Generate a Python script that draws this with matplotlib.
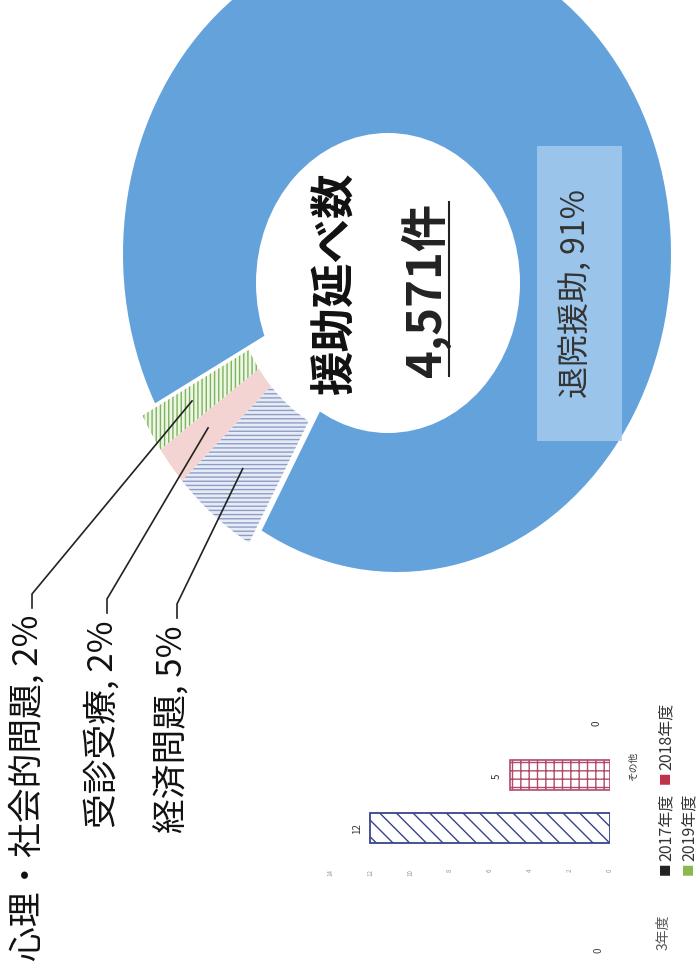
import numpy as np
import matplotlib
matplotlib.use("Agg")
import matplotlib.pyplot as plt
from matplotlib.lines import Line2D
from matplotlib.patches import Rectangle, Ellipse

plt.rcParams['font.family'] = ['Noto Sans CJK JP', 'DejaVu Sans']
plt.rcParams['hatch.linewidth'] = 1.0

# donut: share of support cases (%)
categories = ['心理・社会的問題', '受診受療', '経済問題', '退院援助']
shares = [2, 2, 5, 91]
center_title = '援助延べ数'
total_cases = '4,571件'

# bar chart fragment (その他)
bar_category = 'その他'
years = ['2017年度', '2018年度', '2019年度']
sonota_counts = [12, 5, 0]
value_ticks = [0, 2, 4, 6, 8, 10, 12, 14]

W, H = 699, 962
fig = plt.figure(figsize=(W / 100, H / 100), dpi=100)
fig.patch.set_facecolor('white')


def fx(px):
    return px / W


def fy(py):
    return 1 - py / H


# ---- donut (the scanned page is a bit stretched, so it is an ellipse) ----
cx, cy, rw, rh = 397, 255, 274, 318
ax = fig.add_axes([fx(cx - rw), fy(cy + rh), 2 * rw / W, 2 * rh / H])

colors = ['#eef6e6', '#f4d3d3', '#e6ebf5', '#64a2dc']
hatches = ['||||', None, '----', None]
hatch_cols = ['#7db35c', '#f4d3d3', '#8d9dc6', '#64a2dc']
start = 208

big, _ = ax.pie(shares, startangle=start, colors=colors,
                wedgeprops=dict(linewidth=0))
for w in big[:3]:
    w.set_visible(False)
big[3].set_zorder(1)

# white centre hole
hx, hy = (388 - cx) / rw, -(284 - cy) / rh
hole = Ellipse((hx, hy), 2 * 132 / rw, 2 * 150 / rh, facecolor='white',
               edgecolor='none', zorder=2)
ax.add_patch(hole)

shift = np.deg2rad(220)
off = (0.06 * np.cos(shift), 0.06 * np.sin(shift))
small, _ = ax.pie(shares, startangle=start, colors=colors,
                  wedgeprops=dict(width=0.44, linewidth=0), center=off)
small[3].set_visible(False)
for w, h, hc in zip(small[:3], hatches, hatch_cols):
    w.set_edgecolor(hc)
    w.set_linewidth(0)
    if h:
        w.set_hatch(h)
    w.set_zorder(3)
for w in list(big) + list(small):
    w.set_clip_on(False)

ax.set_aspect('auto')
ax.set_xlim(-1, 1)
ax.set_ylim(-1, 1)
ax.axis('off')

# center text
fig.text(fx(336), fy(283), center_title, rotation=90, ha='center', va='center',
         fontsize=32, fontweight='bold', color='#111111')
num = fig.text(fx(426), fy(290), total_cases, rotation=90, ha='center', va='center',
               fontsize=34, fontweight='bold', color='#222222')

# 91% label box
fig.patches.append(Rectangle((fx(537), fy(442)), fx(622) - fx(537), (442 - 147) / H,
                             transform=fig.transFigure, facecolor='#a6cbee',
                             edgecolor='none', alpha=0.85, zorder=2))
fig.text(fx(575), fy(293), f'{categories[3]}, {shares[3]}%', rotation=90,
         ha='center', va='center', fontsize=23, color='#333333', zorder=3)

# outside labels with leader lines
label_x = [28, 103, 173]
label_top = [615, 620, 625]
for i in range(3):
    fig.text(fx(label_x[i]), fy(label_top[i]), f'{categories[i]}, {shares[i]}%',
             rotation=90, ha='center', va='top', fontsize=25, color='#111111')

fig.canvas.draw()
inv = fig.transFigure.inverted()
for i, w in enumerate(small[:3]):
    a = np.deg2rad((w.theta1 + w.theta2) / 2 - 0.5)
    px = off[0] + 0.82 * np.cos(a)
    py = off[1] + 0.82 * np.sin(a)
    tx, ty = inv.transform(ax.transData.transform((px, py)))
    x0 = fx(label_x[i] + 4)
    fig.add_artist(Line2D([x0, x0, tx], [fy(label_top[i] - 6), fy(label_top[i] - 20), ty],
                          transform=fig.transFigure, color='#222222', lw=1.2))

# underline for the total
bb = num.get_window_extent().transformed(inv)
fig.add_artist(Line2D([bb.x1 - 0.003, bb.x1 - 0.003], [bb.y0, bb.y1],
                      transform=fig.transFigure, color='#222222', lw=1.5))

# ---- bar chart fragment ----
axb = fig.add_axes([fx(330), fy(862), fx(610) - fx(330), (862 - 700) / H])
pos = [1, 0, -1]
styles = [dict(facecolor='white', edgecolor='#3a448a', hatch='\\\\', linewidth=1.3),
          dict(facecolor='white', edgecolor='#b24a6a', hatch='++', linewidth=1.2),
          dict(facecolor='white', edgecolor='#8ab850', hatch='//', linewidth=1.2)]
for p, v, st in zip(pos, sonota_counts, styles):
    if v > 0:
        axb.barh(p, v, height=0.57, **st)
    axb.text(v + 0.65, p, str(v), rotation=90, ha='center', va='center',
             fontsize=7, color='#333333')
axb.text(-1.15, -0.19, bar_category, rotation=90, ha='center', va='center',
         fontsize=7, color='#333333')
axb.set_xlim(14, 0)
axb.set_ylim(1.623, -1.434)
axb.set_xticks(value_ticks)
axb.set_xticklabels([str(t) for t in value_ticks], rotation=90, fontsize=4.5,
                    color='#9a9a9a')
axb.tick_params(axis='x', length=0, pad=5)
axb.set_yticks([])
for s in axb.spines.values():
    s.set_visible(False)
axb.patch.set_alpha(0)

# legend (rotated with the page)
leg_cols = ['#222222', '#c0304a', '#8ab850']
leg_x = [666, 666, 689]
leg_y = [869, 778, 869]
for name, c, lx, ly in zip(years, leg_cols, leg_x, leg_y):
    fig.text(fx(lx), fy(ly), '■', rotation=90, ha='center', va='center',
             fontsize=9, color=c)
    fig.text(fx(lx), fy(ly - 8), name, rotation=90, ha='center', va='bottom',
             fontsize=11.5, color='#333333')

# fragments of the neighbouring panel
fig.text(fx(598), fy(950), '0', rotation=90, ha='center', va='center',
         fontsize=7, color='#444444')
fig.text(fx(664), fy(950), '3年度', rotation=90, ha='center', va='bottom',
         fontsize=10, color='#555555')

fig.savefig('out.png', dpi=100, facecolor='white')
